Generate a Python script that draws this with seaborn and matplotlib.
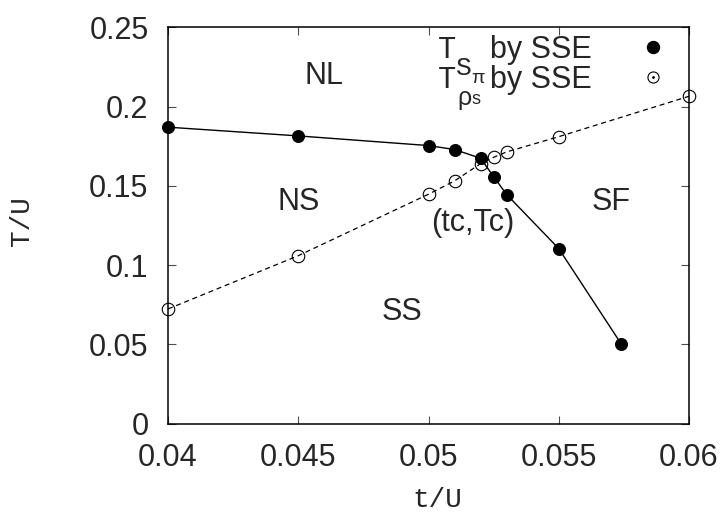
import matplotlib
matplotlib.use("Agg")
import matplotlib.pyplot as plt
import seaborn as sns
import pandas as pd
from matplotlib.lines import Line2D
from matplotlib.legend_handler import HandlerTuple

# T_{S_pi} by SSE (filled circles, solid line)
t_spi = [0.040, 0.045, 0.050, 0.051, 0.052, 0.0525, 0.053, 0.055, 0.0574]
T_spi = [0.187, 0.1815, 0.1754, 0.1729, 0.1674, 0.1558, 0.1445, 0.1104, 0.0502]

# T_{rho_s} by SSE (open circles, dashed line)
t_rho = [0.040, 0.045, 0.050, 0.051, 0.052, 0.0525, 0.053, 0.055, 0.060]
T_rho = [0.0723, 0.1059, 0.1447, 0.1531, 0.164, 0.168, 0.1714, 0.181, 0.2065]

# phase labels
phase_names = ["NL", "NS", "SS", "SF", "(tc,Tc)"]
phase_x = [0.0460, 0.0450, 0.0490, 0.0570, 0.0517]
phase_y = [0.219, 0.140, 0.0706, 0.140, 0.1264]

xticks = [0.04, 0.045, 0.05, 0.055, 0.06]
xticklabels = ["0.04", "0.045", "0.05", "0.055", "0.06"]
yticks = [0, 0.05, 0.1, 0.15, 0.2, 0.25]
yticklabels = ["0", "0.05", "0.1", "0.15", "0.2", "0.25"]

# legend symbol pieces: T_{sub_{subsub}}
leg_sub = ["S", "ρ"]
leg_subsub = ["π", "s"]

sns.set_style("ticks")
plt.rcParams["font.family"] = ["Liberation Sans", "DejaVu Sans"]

MONO = "Liberation Mono"


def add_symbol(ax, anchor, sub, subsub, first):
    # "T" in courier-like font, then the subscripts, chained to the legend text
    tT = ax.annotate("T", xy=(0, 0), xycoords=anchor, xytext=(-1, 0),
                     textcoords="offset points", ha="left", va="bottom",
                     family=MONO, fontsize=22, zorder=6)
    if first:
        # courier S with a sans pi next to its lower half
        ts = ax.annotate(sub, xy=(1, 0), xycoords=tT, xytext=(0, -7),
                         textcoords="offset points", ha="left", va="baseline",
                         family=MONO, fontsize=19, zorder=6)
        ax.annotate(subsub, xy=(1, 0), xycoords=ts, xytext=(0, -5),
                    textcoords="offset points", ha="left", va="bottom",
                    fontsize=14, zorder=6)
    else:
        ts = ax.annotate(sub, xy=(1, 0), xycoords=tT, xytext=(1, -7),
                         textcoords="offset points", ha="left", va="baseline",
                         fontsize=18, zorder=6)
        ax.annotate(subsub, xy=(1, 0), xycoords=ts, xytext=(0, 1),
                    textcoords="offset points", ha="left", va="bottom",
                    fontsize=13, zorder=6)


def main():
    df_spi = pd.DataFrame({"t": t_spi, "T": T_spi})
    df_rho = pd.DataFrame({"t": t_rho, "T": T_rho})

    fig = plt.figure(figsize=(7.28, 5.14), dpi=100)
    ax = fig.add_axes([0.2308, 0.176, 0.7156, 0.7708])

    sns.lineplot(data=df_spi, x="t", y="T", sort=False, ax=ax, color="black",
                 lw=1.0, marker="o", markersize=8.6, markerfacecolor="black",
                 markeredgecolor="black", clip_on=False, zorder=3)
    sns.lineplot(data=df_rho, x="t", y="T", sort=False, ax=ax, color="black",
                 lw=0.9, marker="o", markersize=9,
                 markerfacecolor="none", markeredgecolor="black",
                 markeredgewidth=0.8, clip_on=False, zorder=3)
    ax.lines[-1].set_dashes((4, 3))

    for name, x, y in zip(phase_names, phase_x, phase_y):
        ax.text(x, y, name, fontsize=22, ha="center", va="center")

    ax.set_xlim(0.04, 0.06)
    ax.set_ylim(0, 0.25)
    ax.set_xticks(xticks)
    ax.set_xticklabels(xticklabels)
    ax.set_yticks(yticks)
    ax.set_yticklabels(yticklabels)
    ax.tick_params(direction="in", length=6, width=0.8, color="0.3",
                   labelsize=22, pad=14, top=True, right=True)
    for s in ax.spines.values():
        s.set_visible(True)
        s.set_linewidth(1.1)
        s.set_color("black")

    ax.set_xlabel("t/U", family=MONO, fontsize=20)
    ax.set_ylabel("T/U", family=MONO, fontsize=20)
    ax.xaxis.set_label_coords(0.517, -0.16)
    ax.yaxis.set_label_coords(-0.256, 0.51)

    # legend: points only, text right-aligned before the marker
    h1 = Line2D([], [], ls="none", marker="o", markersize=8.6, color="black")
    h2a = Line2D([], [], ls="none", marker="o", markersize=8,
                 markerfacecolor="none", markeredgecolor="black", markeredgewidth=0.8)
    h2b = Line2D([], [], ls="none", marker=".", markersize=2, color="black")
    leg = ax.legend([h1, (h2a, h2b)],
                    ["      by SSE", "      by SSE"],
                    handler_map={tuple: HandlerTuple(ndivide=1, pad=0)},
                    loc="upper right", bbox_to_anchor=(665 / 728, 1 - 35 / 514),
                    bbox_transform=fig.transFigure, frameon=False, markerfirst=False,
                    fontsize=22, handlelength=0.8, handletextpad=1.6,
                    borderpad=0, borderaxespad=0, labelspacing=0.0)
    for i, txt in enumerate(leg.get_texts()):
        txt.set_ha("right")
        add_symbol(ax, txt, leg_sub[i], leg_subsub[i], i == 0)

    fig.savefig("out.png", dpi=100)


if __name__ == "__main__":
    main()
